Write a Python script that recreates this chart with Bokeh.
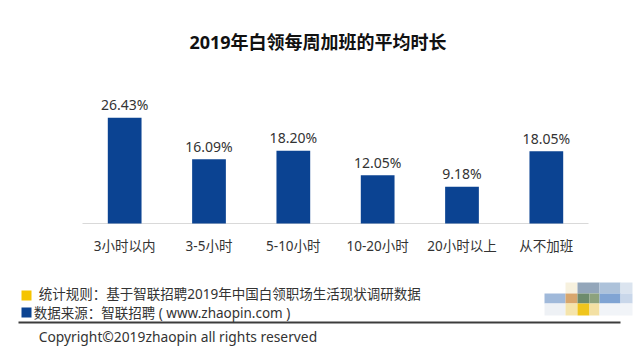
from bokeh.plotting import figure
from bokeh.models import ColumnDataSource, Range1d, Label, BoxAnnotation
from bokeh.core.properties import value
from bokeh.embed import file_html
from bokeh.resources import INLINE

# ---- data ----
categories = ["3小时以内", "3-5小时", "5-10小时", "10-20小时", "20小时以上", "从不加班"]
shares = [26.43, 16.09, 18.20, 12.05, 9.18, 18.05]
share_labels = [f"{v:.2f}%" for v in shares]

title_text = "2019年白领每周加班的平均时长"
note_rule = "统计规则：基于智联招聘2019年中国白领职场生活现状调研数据"
note_source = "数据来源：智联招聘 ( www.zhaopin.com )"
copyright_text = "Copyright©2019zhaopin all rights reserved"

FONT = "Noto Sans, Noto Sans CJK SC"
BAR_BLUE = "#0b4392"
YELLOW = "#f5c400"

W, H = 640, 351
# layout of the plotting area inside the page (pixels)
PLOT_LEFT, PLOT_RIGHT, BASELINE = 82, 588, 223
PX_PER_CAT = (PLOT_RIGHT - PLOT_LEFT) / len(categories)
PX_PER_PCT = 4.0

X0 = -PLOT_LEFT / PX_PER_CAT
X1 = X0 + W / PX_PER_CAT
Y1 = BASELINE / PX_PER_PCT
Y0 = Y1 - H / PX_PER_PCT

p = figure(width=W, height=H, x_range=Range1d(X0, X1), y_range=Range1d(Y0, Y1),
           x_axis_type=None, y_axis_type=None,
           output_backend="svg", toolbar_location=None,
           min_border_left=0, min_border_right=0, min_border_top=0, min_border_bottom=0)
p.outline_line_color = None
p.background_fill_color = "white"
p.border_fill_color = "white"
p.grid.visible = False


def dx(cx):
    return X0 + cx / PX_PER_CAT


def dy(cy):
    return Y1 - cy / PX_PER_PCT


xpos = [i + 0.5 for i in range(len(categories))]
src = ColumnDataSource(dict(x=xpos, cat=categories, val=shares, lab=share_labels))

# baseline (category axis line)
p.segment(x0=0, y0=0, x1=len(categories), y1=0, line_color="#d9d9d9", line_width=1)

p.vbar(x="x", top="val", bottom=0, width=0.4, source=src, fill_color=BAR_BLUE, line_color=None)
p.text(x="x", y="val", text="lab", source=src, text_align="center",
       text_baseline="alphabetic", y_offset=-13, text_font=value("Noto Sans"),
       text_font_size="14px", text_color="#333333")
p.text(x="x", y=0, text="cat", source=src, text_align="center",
       text_baseline="top", y_offset=13, text_font=value(FONT),
       text_font_size="13.5px", text_color="#333333")


def label(text, cx, cy, size, align="left", baseline="middle", bold=False, color="#333333"):
    p.add_layout(Label(x=dx(cx), y=dy(cy), text=text,
                       text_font=FONT, text_font_size=size, text_align=align,
                       text_baseline=baseline, text_color=color,
                       text_font_style="bold" if bold else "normal"))


def box(x1, y1, x2, y2, color):
    p.add_layout(BoxAnnotation(left=dx(x1), right=dx(x2), top=dy(y1), bottom=dy(y2),
                               fill_color=color, fill_alpha=1.0, line_color=None))


# title
label(title_text, 317.5, 41, "18px", align="center", baseline="alphabetic", bold=True, color="#111111")

# footer
box(21, 290, 31, 300, YELLOW)
box(21, 307, 31, 317, BAR_BLUE)
label(note_rule, 38.3, 293.5, "13.5px")
label(note_source, 33.3, 312.5, "13.5px")
box(18, 321, 620, 323, "#3c3c3c")
label(copyright_text, 38.3, 335.5, "13.8px")

# blurred logo at the lower right
for (x1, y1, x2, y2, c) in [
    (565, 282, 577, 293, "#f7f1de"), (577, 282, 599, 293, "#93a6ba"),
    (599, 282, 620, 293, "#adc2da"), (620, 282, 632, 293, "#dbe4ef"),
    (544, 293, 565, 303, "#a0b9da"), (565, 293, 577, 303, "#d8a66c"),
    (577, 293, 589, 303, "#6d8b6c"), (589, 293, 599, 303, "#8da27d"),
    (599, 293, 620, 303, "#80a4d3"), (620, 293, 632, 303, "#c9d7ea"),
    (544, 303, 565, 315, "#eef1f5"), (565, 303, 577, 315, "#f5e4ab"),
    (577, 303, 589, 315, "#f0c51c"), (589, 303, 599, 315, "#f3e0a3"),
    (599, 303, 632, 315, "#f1f4f8"),
]:
    box(x1, y1, x2, y2, c)

open("out.html", "w").write(file_html(p, INLINE))
